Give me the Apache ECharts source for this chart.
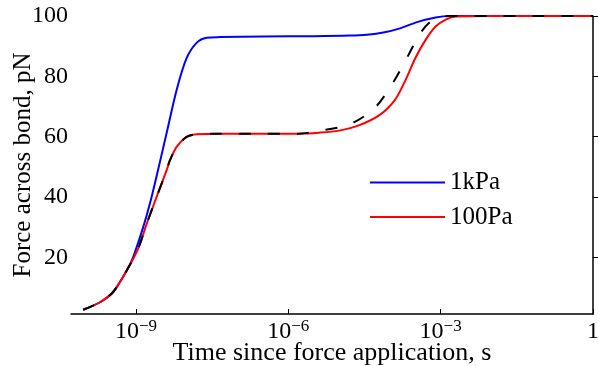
<!DOCTYPE html>
<html>
<head>
<meta charset="utf-8">
<script src="https://cdn.jsdelivr.net/npm/echarts@6/dist/echarts.min.js"></script>
<style>
  html, body { margin: 0; padding: 0; background: #fff; }
  #chart { width: 599px; height: 366px; }
</style>
</head>
<body>
<div id="chart"></div>
<script>
// x values are log10(time / s)
const blueT = [-10.04, -9.71, -9.45, -9.18, -9.055, -8.858, -8.726, -8.589, -8.398, -8.201, -8.004, -7.807, -7.61, -7.35, -6.5, -5.5, -4.79, -4.45, -4.13, -3.8, -3.48, -3.1, -2.82, -2, -1, 0]
const blueF = [2.6, 5.1, 8.5, 15.7, 20.1, 30.0, 37.8, 47.3, 61.1, 75.4, 86.0, 91.1, 92.8, 93.0, 93.2, 93.3, 93.5, 93.8, 94.5, 95.9, 97.9, 99.5, 100, 100, 100, 100]

const redT = [-10.04, -9.71, -9.45, -9.18, -8.957, -8.79, -8.594, -8.398, -8.333, -8.2, -8.004, -7.807, -7.35, -6.5, -5.8, -5.4, -5.0, -4.6, -4.2, -3.9, -3.7, -3.5, -3.3, -3.1, -2.9, -2.7, -2, -1, 0]
const redF = [2.6, 5.1, 8.5, 15.7, 22.9, 31.1, 40.0, 48.8, 52.1, 56.6, 59.9, 60.8, 61.0, 61.0, 61.0, 61.3, 62.0, 63.8, 67.2, 72.2, 78.5, 86.0, 92.0, 96.5, 98.8, 99.8, 100, 100, 100]

const dashT = [-10.04, -9.71, -9.45, -9.18, -8.957, -8.79, -8.594, -8.398, -8.333, -8.2, -8.004, -7.807, -7.35, -6.5, -5.8, -5.38, -4.79, -4.3, -3.95, -3.69, -3.4, -3.21, -3.04, -2.82, -2, -1, 0]
const dashF = [2.6, 5.1, 8.5, 15.7, 22.9, 31.1, 40.0, 48.8, 52.1, 56.6, 59.9, 60.8, 61.0, 61.0, 61.0, 62.0, 64.1, 69.5, 77.6, 85.3, 94.3, 98.0, 99.4, 100, 100, 100, 100]

const xTicks = [-9, -6, -3, 0]
const yTicks = [20, 40, 60, 80, 100]

const font = "'Liberation Serif', 'DejaVu Serif', serif"
const zip = (t, f) => t.map((v, i) => [v, f[i]])

const myChart = echarts.init(document.getElementById('chart'))
myChart.setOption({
  animation: false,
  grid: { left: 71, right: 6, top: 16, bottom: 52, outerBoundsMode: 'none' },
  legend: {
    data: ['1kPa', '100Pa'],
    orient: 'vertical',
    left: 365,
    top: 165,
    icon: 'rect',
    itemWidth: 75,
    itemHeight: 2,
    itemGap: 9.6,
    textStyle: { fontFamily: font, fontSize: 25, color: '#000', lineHeight: 25 }
  },
  xAxis: {
    type: 'value',
    min: -10.28,
    max: 0,
    name: 'Time since force application, s',
    nameLocation: 'middle',
    nameGap: 26,
    nameMoveOverlap: false,
    nameTextStyle: { fontFamily: font, fontSize: 26, color: '#000' },
    splitLine: { show: false },
    axisLine: { lineStyle: { color: '#000', width: 1.5 } },
    axisTick: { inside: true, length: 5, customValues: xTicks, lineStyle: { color: '#000', width: 1 } },
    axisLabel: {
      customValues: xTicks,
      margin: 4,
      formatter: v => v === 0 ? '{n|1}' : '{n|10}{s|−' + (-v) + '}',
      rich: {
        n: { fontFamily: font, fontSize: 24, color: '#000', lineHeight: 28 },
        s: { fontFamily: font, fontSize: 17, color: '#000', verticalAlign: 'top', lineHeight: 17 }
      }
    }
  },
  yAxis: {
    type: 'value',
    min: 1.2,
    max: 100,
    name: 'Force across bond, pN',
    nameLocation: 'middle',
    nameGap: 35,
    nameMoveOverlap: false,
    nameTextStyle: { fontFamily: font, fontSize: 25, color: '#000' },
    splitLine: { show: false },
    axisLine: { show: true, lineStyle: { color: '#000', width: 1.5 } },
    axisTick: { show: true, inside: true, length: 5, customValues: yTicks, lineStyle: { color: '#000', width: 1 } },
    axisLabel: { customValues: yTicks, margin: 3, fontFamily: font, fontSize: 24, color: '#000' }
  },
  series: [
    {
      name: '1kPa',
      type: 'line',
      data: zip(blueT, blueF),
      symbol: 'none',
      smooth: 0.3,
      lineStyle: { color: '#0000ff', width: 2 },
      itemStyle: { color: '#0000ff' }
    },
    {
      name: '100Pa',
      type: 'line',
      data: zip(redT, redF),
      symbol: 'none',
      smooth: 0.3,
      lineStyle: { color: '#ff0000', width: 2 },
      itemStyle: { color: '#ff0000' }
    },
    {
      name: 'dashed',
      type: 'line',
      data: zip(dashT, dashF),
      symbol: 'none',
      smooth: 0.3,
      lineStyle: { color: '#000', width: 2, type: [12, 17] },
      itemStyle: { color: '#000' }
    }
  ]
})
</script>
</body>
</html>
